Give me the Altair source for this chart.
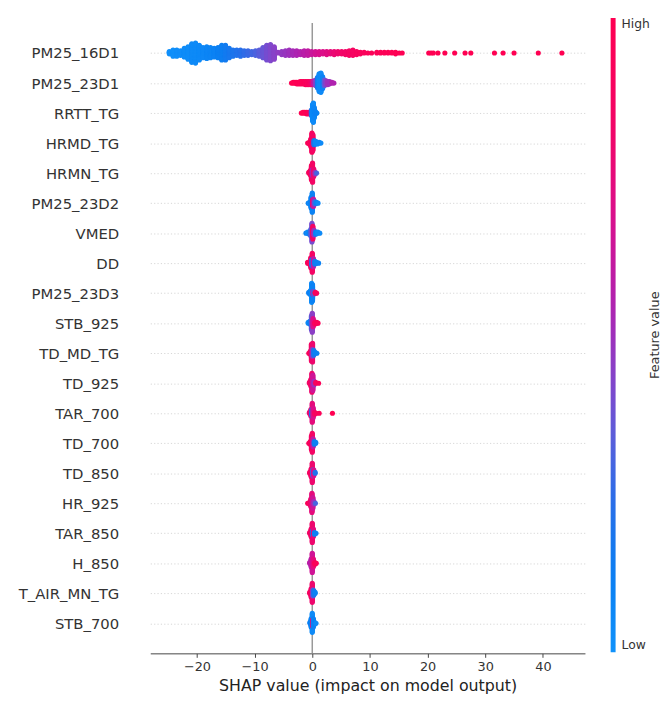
import math
import altair as alt
import pandas as pd

# ---- feature names (top to bottom) ----
features = ["PM25_16D1", "PM25_23D1", "RRTT_TG", "HRMD_TG", "HRMN_TG", "PM25_23D2",
            "VMED", "DD", "PM25_23D3", "STB_925", "TD_MD_TG", "TD_925", "TAR_700",
            "TD_700", "TD_850", "HR_925", "TAR_850", "H_850", "T_AIR_MN_TG", "STB_700"]

# each row: (SHAP value, normalised feature value, number of samples at that value)
row_PM25_16D1 = [
    (-24.8, 0.02, 4), (-24.15, 0.02, 9), (-23.5, 0.03, 9), (-22.85, 0.03, 7),
    (-22.2, 0.04, 12), (-21.55, 0.04, 17), (-20.9, 0.05, 25), (-20.25, 0.05, 27),
    (-19.6, 0.06, 20), (-18.95, 0.07, 14), (-18.3, 0.08, 16), (-17.65, 0.09, 14),
    (-17.0, 0.1, 12), (-16.35, 0.12, 14), (-15.7, 0.13, 20), (-15.05, 0.15, 20),
    (-14.4, 0.17, 13), (-13.75, 0.19, 9), (-13.1, 0.21, 8), (-12.45, 0.23, 9),
    (-11.8, 0.25, 7), (-11.15, 0.27, 7), (-10.5, 0.29, 5), (-9.85, 0.31, 7),
    (-9.2, 0.34, 9), (-8.55, 0.37, 14), (-7.9, 0.4, 20), (-7.25, 0.42, 22),
    (-6.6, 0.44, 17), (-5.95, 0.46, 2), (-5.3, 0.47, 5), (-4.65, 0.48, 7),
    (-4.0, 0.5, 8), (-3.35, 0.52, 7), (-2.7, 0.54, 7), (-2.05, 0.56, 5),
    (-1.4, 0.58, 7), (-0.75, 0.6, 7), (-0.1, 0.63, 5), (0.55, 0.66, 5),
    (1.2, 0.68, 5), (1.85, 0.7, 4), (2.5, 0.72, 5), (3.15, 0.75, 4),
    (3.8, 0.78, 5), (4.45, 0.8, 4), (5.1, 0.82, 4), (5.75, 0.84, 5),
    (6.4, 0.86, 7), (7.05, 0.88, 8), (7.7, 0.9, 5), (8.35, 0.92, 3),
    (9.0, 0.93, 2), (9.65, 0.94, 1), (10.3, 0.95, 1), (11.2, 0.96, 2),
    (11.85, 0.96, 2), (12.5, 0.97, 2), (13.15, 0.97, 2), (13.8, 0.98, 2),
    (14.45, 0.98, 3), (15.1, 0.98, 1), (15.6, 0.99, 1), (20.2, 1.0, 1),
    (20.6, 1.0, 1), (21.0, 1.0, 1), (21.8, 1.0, 1), (23.0, 1.0, 1),
    (24.7, 1.0, 1), (26.5, 1.0, 1), (27.5, 1.0, 1), (31.6, 1.0, 1),
    (33.1, 1.0, 1), (35.0, 1.0, 1), (39.2, 1.0, 1), (43.3, 1.0, 1)]
row_PM25_23D1 = [
    (-3.6, 1.0, 1), (-3.3, 1.0, 2), (-3.0, 0.98, 2), (-2.7, 0.98, 3), (-2.4, 0.97, 3),
    (-2.1, 0.97, 4), (-1.8, 0.95, 4), (-1.5, 0.95, 4), (-1.2, 0.93, 5), (-0.9, 0.92, 5),
    (-0.6, 0.9, 5), (-0.3, 0.85, 5), (0.0, 0.75, 5), (0.3, 0.6, 6), (0.6, 0.45, 8),
    (0.9, 0.15, 14), (1.2, 0.05, 24), (1.5, 0.05, 26), (1.8, 0.1, 16), (2.1, 0.35, 8),
    (2.4, 0.45, 6), (2.7, 0.5, 5), (3.0, 0.5, 4), (3.4, 0.55, 2), (3.75, 0.55, 1)]
row_RRTT_TG = [
    (-1.9, 1.0, 1), (-1.6, 1.0, 2), (-1.3, 0.98, 2), (-1.0, 0.97, 3), (-0.7, 0.95, 3),
    (-0.4, 0.9, 3), (-0.15, 0.2, 8), (0.05, 0.05, 22), (0.2, 0.05, 26), (0.35, 0.08, 14),
    (0.55, 0.1, 4), (0.8, 0.1, 1)]
row_HRMD_TG = [
    (-0.8, 0.95, 1), (-0.5, 0.95, 3), (-0.25, 0.9, 10), (-0.05, 0.9, 24), (0.15, 0.1, 8),
    (0.1, 0.85, 20), (0.3, 0.2, 6), (0.6, 0.05, 4), (0.9, 0.05, 3), (1.2, 0.05, 2),
    (1.5, 0.05, 1)]
row_HRMN_TG = [
    (-0.6, 0.9, 2), (-0.35, 0.92, 6), (-0.15, 0.9, 18), (0.05, 0.85, 24), (0.0, 0.55, 8),
    (0.25, 0.8, 10), (0.5, 0.5, 3), (0.75, 0.3, 1)]
row_PM25_23D2 = [
    (-0.7, 0.1, 1), (-0.45, 0.05, 3), (-0.2, 0.1, 14), (0.0, 0.1, 24), (0.05, 0.8, 8),
    (0.2, 0.6, 10), (0.45, 0.3, 4), (0.7, 0.1, 2), (1.0, 0.05, 1)]
row_VMED = [
    (-1.1, 0.1, 1), (-0.8, 0.05, 2), (-0.5, 0.1, 3), (-0.25, 0.3, 8), (-0.05, 0.4, 20),
    (0.1, 0.85, 14), (0.3, 0.5, 6), (0.6, 0.1, 3), (0.95, 0.05, 2), (1.3, 0.05, 1)]
row_DD = [
    (-0.8, 0.95, 2), (-0.5, 0.9, 3), (-0.25, 0.85, 12), (0.0, 0.85, 22), (-0.05, 0.2, 8),
    (0.2, 0.6, 10), (0.45, 0.15, 4), (0.75, 0.1, 2), (1.1, 0.1, 1)]
row_PM25_23D3 = [
    (-0.6, 0.1, 2), (-0.3, 0.1, 6), (-0.1, 0.05, 24), (0.05, 0.1, 20), (0.1, 0.5, 4),
    (0.3, 0.3, 4), (0.5, 0.95, 2), (0.75, 0.9, 1)]
row_STB_925 = [
    (-0.7, 0.05, 2), (-0.4, 0.1, 4), (-0.15, 0.3, 16), (0.0, 0.45, 22), (0.15, 0.7, 10),
    (0.45, 0.9, 3), (0.75, 0.95, 2), (1.0, 0.95, 1)]
row_TD_MD_TG = [
    (-0.6, 0.95, 1), (-0.35, 0.9, 4), (-0.15, 0.85, 18), (0.05, 0.8, 20), (0.0, 0.5, 8),
    (0.25, 0.2, 6), (0.5, 0.1, 2), (0.8, 0.1, 1)]
row_TD_925 = [
    (-0.5, 0.85, 2), (-0.25, 0.85, 8), (-0.05, 0.8, 22), (0.1, 0.65, 18), (0.3, 0.5, 5),
    (0.6, 0.9, 2), (1.1, 0.95, 1)]
row_TAR_700 = [
    (-0.5, 0.8, 2), (-0.25, 0.75, 8), (0.0, 0.75, 22), (-0.05, 0.15, 8), (0.15, 0.7, 12),
    (0.4, 0.85, 3), (0.7, 0.9, 1), (1.2, 0.95, 1), (3.5, 1.0, 1)]
row_TD_700 = [
    (-0.6, 0.95, 1), (-0.35, 0.9, 4), (-0.15, 0.85, 16), (0.0, 0.85, 22), (0.15, 0.6, 10),
    (0.35, 0.15, 4), (0.6, 0.1, 2)]
row_TD_850 = [
    (-0.45, 0.9, 2), (-0.2, 0.85, 10), (0.0, 0.8, 24), (0.1, 0.3, 8), (0.25, 0.7, 8),
    (0.5, 0.2, 2)]
row_HR_925 = [
    (-0.8, 0.95, 1), (-0.5, 0.9, 3), (-0.25, 0.8, 10), (-0.05, 0.75, 24), (0.1, 0.65, 14),
    (0.3, 0.5, 4), (0.55, 0.3, 1)]
row_TAR_850 = [
    (-0.45, 0.85, 2), (-0.2, 0.85, 10), (0.0, 0.8, 24), (0.05, 0.1, 6), (0.2, 0.75, 10),
    (0.4, 0.1, 3), (0.65, 0.1, 1)]
row_H_850 = [
    (-0.45, 0.6, 2), (-0.2, 0.55, 10), (0.0, 0.65, 24), (0.2, 0.75, 10), (0.45, 0.95, 3),
    (0.7, 0.95, 1)]
row_T_AIR_MN_TG = [
    (-0.45, 0.9, 2), (-0.2, 0.85, 10), (0.0, 0.8, 22), (0.1, 0.45, 8), (0.25, 0.2, 6),
    (0.5, 0.1, 2)]
row_STB_700 = [
    (-0.4, 0.1, 2), (-0.2, 0.1, 10), (0.0, 0.05, 22), (0.05, 0.75, 8), (0.2, 0.1, 10),
    (0.4, 0.1, 3), (0.65, 0.05, 1)]

row_data = [row_PM25_16D1, row_PM25_23D1, row_RRTT_TG, row_HRMD_TG, row_HRMN_TG,
            row_PM25_23D2, row_VMED, row_DD, row_PM25_23D3, row_STB_925, row_TD_MD_TG,
            row_TD_925, row_TAR_700, row_TD_700, row_TD_850, row_HR_925, row_TAR_850,
            row_H_850, row_T_AIR_MN_TG, row_STB_700]

x_ticks = [-20, -10, 0, 10, 20, 30, 40]
color_stops = [0, 0.12, 0.24, 0.33, 0.42, 0.54, 0.68, 0.82, 1]
color_range = ["#1092fb", "#0a7ff2", "#2a6ee8", "#5560dc", "#8048cc",
               "#ad24b2", "#d8108e", "#f20668", "#ff0052"]

# ---- beeswarm layout (shap-style alternating stacking of equal values) ----
records = []
for i, (name, clusters) in enumerate(zip(features, row_data)):
    pts = []
    for v, f, n in clusters:
        pts += [(v, f)] * n
    layers = {}
    offs = []
    for v, f in pts:
        layer = layers.get(v, 0)
        offs.append(math.ceil(layer / 2) * (1 if layer % 2 else -1))
        layers[v] = layer + 1
    m = max(o + 1 for o in offs)
    sc = 0.9 * 0.4 / m
    for (v, f), o in zip(pts, offs):
        records.append({"feature": name, "shap": v, "fv": f, "y": i - o * sc})
df = pd.DataFrame(records)

FONT = "DejaVu Sans"
label_expr = "[" + ",".join("'%s'" % f for f in features) + "][datum.value]"

rule = alt.Chart(pd.DataFrame({"z": [0]})).mark_rule(
    color="#999999", strokeWidth=1.5
).encode(x=alt.datum(0))

points = alt.Chart(df).mark_circle(size=27, opacity=1, strokeWidth=0).encode(
    x=alt.X("shap:Q",
            scale=alt.Scale(domain=[-28.1, 47.3], nice=False, zero=False),
            axis=alt.Axis(values=x_ticks, title="SHAP value (impact on model output)",
                          grid=False, tickSize=4, labelPadding=3, titlePadding=5,
                          labelFontSize=13, titleFontSize=16, titleFontWeight="normal",
                          labelFont=FONT, titleFont=FONT, labelColor="#333333",
                          titleColor="#222222", domainColor="#444444",
                          tickColor="#444444")),
    y=alt.Y("y:Q",
            scale=alt.Scale(domain=[-1, 20], reverse=True, nice=False, zero=False),
            axis=alt.Axis(values=list(range(20)), labelExpr=label_expr, title=None,
                          ticks=False, domain=False, grid=True, gridDash=[1.2, 2.2],
                          gridColor="#cccccc", gridWidth=0.8, labelPadding=32,
                          labelFontSize=15, labelFont=FONT, labelColor="#333333")),
    color=alt.Color("fv:Q",
                    scale=alt.Scale(domain=color_stops, range=color_range,
                                    interpolate="rgb"),
                    legend=alt.Legend(orient="none", legendX=466, legendY=-5,
                                      direction="vertical", title=None,
                                      gradientLength=642, gradientThickness=5,
                                      gradientStrokeWidth=0, values=[0, 1],
                                      labelExpr="datum.value >= 1 ? 'High' : 'Low'",
                                      labelFontSize=12.5, labelOffset=6,
                                      labelBaseline="middle", labelColor="#333333",
                                      labelFont=FONT, padding=0)),
)

title_txt = alt.Chart(pd.DataFrame({"t": ["Feature value"]})).mark_text(
    angle=270, fontSize=13, font=FONT, color="#333333"
).encode(x=alt.value(511), y=alt.value(316), text="t:N")

chart = alt.layer(rule, points, title_txt).properties(
    width=440, height=638,
    autosize=alt.AutoSizeParams(type="none"),
    padding={"left": 144, "top": 11, "right": 80, "bottom": 44},
).configure_view(stroke=None)

chart.save("out.html", embed_options={"renderer": "svg", "actions": False})
